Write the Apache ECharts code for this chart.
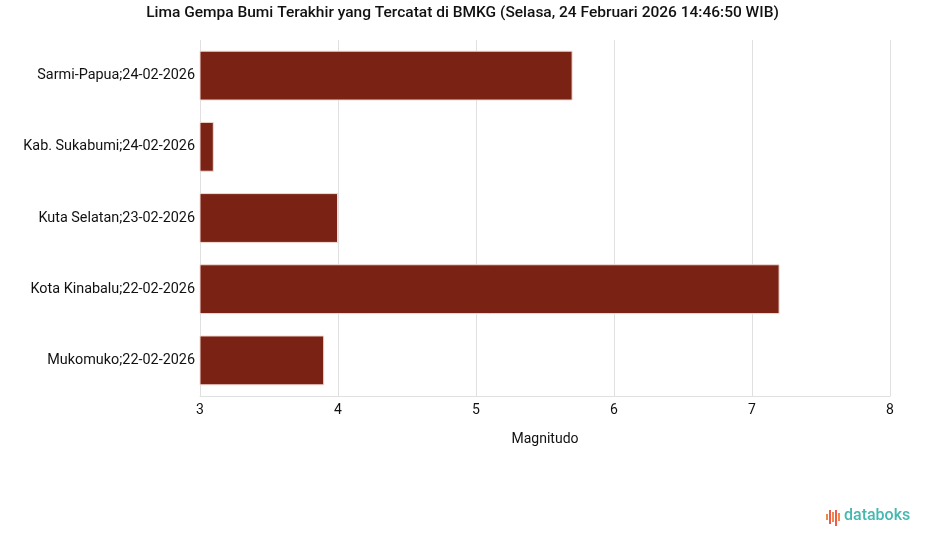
<!DOCTYPE html>
<html>
<head>
<meta charset="utf-8">
<script src="https://cdn.jsdelivr.net/npm/echarts@6/dist/echarts.min.js"></script>
<style>
  html, body { margin: 0; padding: 0; background: #fff; }
  #chart { width: 925px; height: 547px; }
</style>
</head>
<body>
<div id="chart"></div>
<script>
const locations = [
  'Sarmi-Papua;24-02-2026',
  'Kab. Sukabumi;24-02-2026',
  'Kuta Selatan;23-02-2026',
  'Kota Kinabalu;22-02-2026',
  'Mukomuko;22-02-2026'
];
const magnitudes = [5.7, 3.1, 4.0, 7.2, 3.9];
const xMin = 3, xMax = 8, xStep = 1;

const chart = echarts.init(document.getElementById('chart'));
chart.setOption({
  animation: false,
  textStyle: { fontFamily: 'Roboto' },
  title: {
    text: 'Lima Gempa Bumi Terakhir yang Tercatat di BMKG (Selasa, 24 Februari 2026 14:46:50 WIB)',
    left: 'center',
    top: 0,
    textStyle: { fontSize: 15.5, fontWeight: 500, color: '#111', fontFamily: 'Roboto' }
  },
  grid: { left: 200, right: 35, top: 40, bottom: 151 },
  xAxis: {
    type: 'value',
    min: xMin, max: xMax, interval: xStep,
    name: 'Magnitudo',
    nameLocation: 'middle',
    nameGap: 36,
    nameTextStyle: { fontSize: 14, color: '#111' },
    axisLine: { show: true, lineStyle: { color: '#e0e0e0' } },
    axisTick: { show: false },
    axisLabel: { fontSize: 14, color: '#111', margin: 7 },
    splitLine: { show: true, lineStyle: { color: '#e0e0e0' } }
  },
  yAxis: {
    type: 'category',
    inverse: true,
    data: locations,
    axisLine: { show: false },
    axisTick: { show: false },
    axisLabel: { fontSize: 14.4, color: '#111', margin: 5 }
  },
  series: [{
    type: 'bar',
    data: magnitudes,
    barCategoryGap: '30%',
    itemStyle: { color: '#7a2214', borderColor: '#f3dcd6', borderWidth: 1 }
  }],
  graphic: [
    { type: 'rect', left: 826, top: 514, shape: { width: 2, height: 6 }, style: { fill: '#f08a4b' } },
    { type: 'rect', left: 829, top: 510, shape: { width: 2, height: 14 }, style: { fill: '#ef5a4a' } },
    { type: 'rect', left: 832, top: 512, shape: { width: 2, height: 10 }, style: { fill: '#f08a4b' } },
    { type: 'rect', left: 835, top: 510, shape: { width: 2, height: 16 }, style: { fill: '#ef5a4a' } },
    { type: 'rect', left: 838, top: 513, shape: { width: 2, height: 8 }, style: { fill: '#f08a4b' } },
    {
      type: 'text', left: 844, top: 508,
      style: { text: 'databoks', fill: '#45b8b0', font: '500 16px Roboto' }
    }
  ]
});
</script>
</body>
</html>
